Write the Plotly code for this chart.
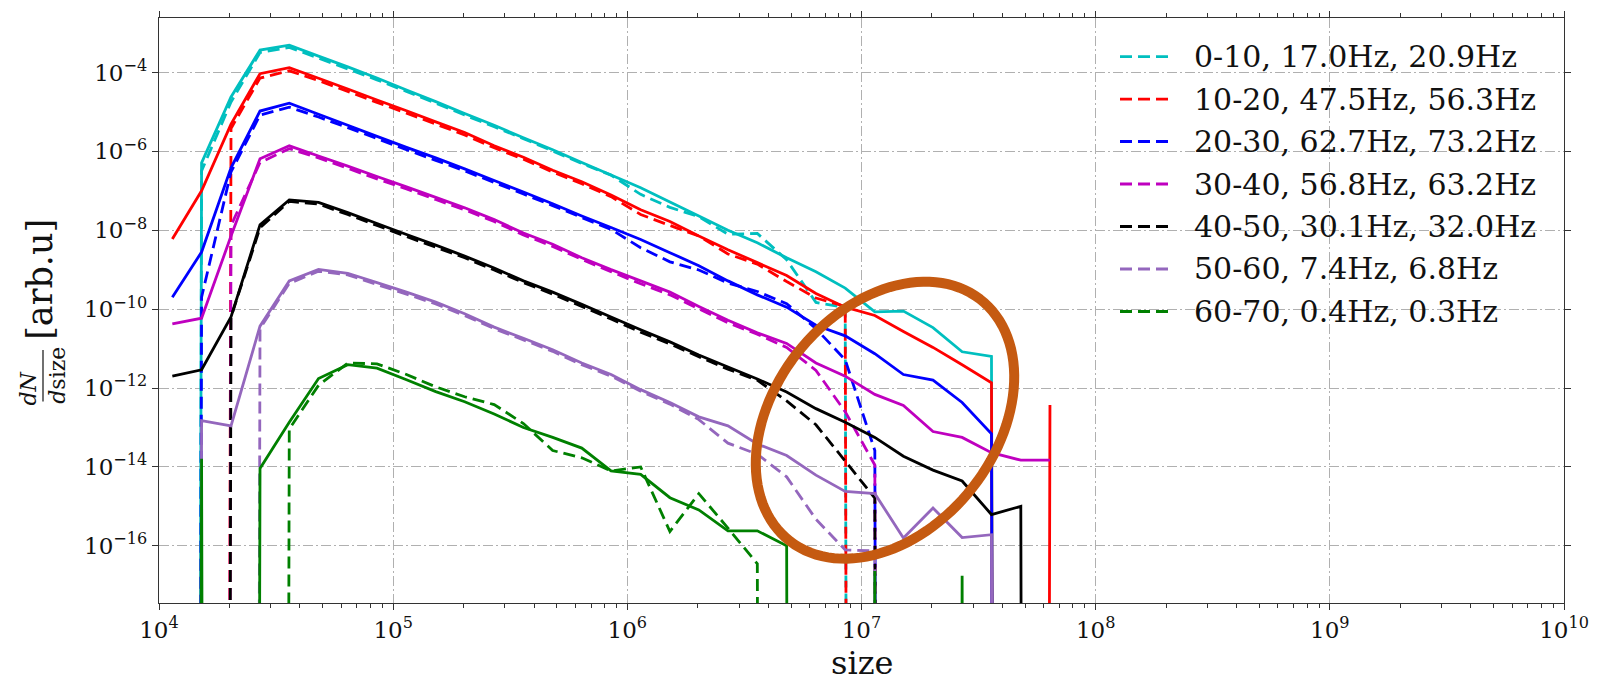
import math
import plotly.graph_objects as go

# ---------------------------------------------------------------- data
# bin centres of the size histogram
size_bins = [1.14e4, 1.52e4, 2.03e4, 2.70e4, 3.60e4, 4.80e4, 6.40e4, 8.53e4,
             1.14e5, 1.52e5, 2.02e5, 2.70e5, 3.60e5, 4.80e5, 6.39e5, 8.52e5,
             1.14e6, 1.52e6, 2.02e6, 2.69e6, 3.59e6, 4.79e6, 6.39e6, 8.52e6,
             1.14e7, 1.51e7, 2.02e7, 2.69e7, 3.59e7, 4.79e7, 6.38e7]

labels = ["0-10, 17.0Hz, 20.9Hz", "10-20, 47.5Hz, 56.3Hz", "20-30, 62.7Hz, 73.2Hz",
          "30-40, 56.8Hz, 63.2Hz", "40-50, 30.1Hz, 32.0Hz", "50-60, 7.4Hz, 6.8Hz",
          "60-70, 0.4Hz, 0.3Hz"]
colors = ["#00BFBF", "#FF0000", "#0000FF", "#BF00BF", "#000000", "#9467BD", "#008000"]

# tick positions and their labels
x_tick_exponents = [4, 5, 6, 7, 8, 9, 10]
y_tick_exponents = [-16, -14, -12, -10, -8, -6, -4]

# dN/dsize, first rate (solid) and second rate (dashed); 0 = empty bin
solid_0_10 = [0, 5.1e-7, 2.4e-5, 3.7e-4, 4.9e-4, 2.6e-4, 1.38e-4, 7.2e-5, 3.6e-5, 1.82e-5,
              9.1e-6, 4.6e-6, 2.2e-6, 1.10e-6, 5.2e-7, 2.5e-7, 1.20e-7, 5.2e-8, 2.3e-8, 1.0e-8,
              4.8e-9, 2.0e-9, 8.9e-10, 3.4e-10, 8.5e-11, 8.9e-11, 3.4e-11, 8.3e-12, 6.3e-12, 0, 0]
dashed_0_10 = [0, 3.2e-7, 1.78e-5, 3.2e-4, 4.3e-4, 2.3e-4, 1.23e-4, 6.5e-5, 3.3e-5, 1.66e-5,
               8.3e-6, 4.2e-6, 2.1e-6, 1.02e-6, 4.9e-7, 2.5e-7, 8.1e-8, 3.8e-8, 2.2e-8, 7.9e-9,
               8.3e-9, 1.78e-9, 1.48e-10, 1.10e-10, 0, 0, 0, 0, 0, 0, 0]

solid_10_20 = [6.0e-9, 1.0e-7, 4.9e-6, 9.3e-5, 1.32e-4, 7.1e-5, 3.8e-5, 2.0e-5, 1.07e-5, 5.6e-6,
               3.0e-6, 1.38e-6, 7.1e-7, 3.3e-7, 1.70e-7, 7.8e-8, 3.3e-8, 1.66e-8, 7.1e-9, 3.2e-9,
               1.51e-9, 7.1e-10, 2.5e-10, 1.12e-10, 6.9e-11, 2.7e-11, 1.07e-11, 3.9e-12, 1.35e-12,
               0, 3.7e-13]
dashed_10_20 = [0, 0, 3.8e-6, 7.2e-5, 1.10e-4, 6.2e-5, 3.3e-5, 1.74e-5, 9.3e-6, 4.9e-6,
                2.6e-6, 1.23e-6, 6.3e-7, 3.0e-7, 1.51e-7, 7.1e-8, 2.5e-8, 1.32e-8, 7.1e-9, 2.5e-9,
                1.38e-9, 5.0e-10, 1.91e-10, 1.17e-10, 0, 0, 0, 0, 0, 0, 0]

solid_20_30 = [2.0e-10, 2.8e-9, 3.8e-7, 1.05e-5, 1.66e-5, 8.7e-6, 4.6e-6, 2.4e-6, 1.26e-6, 6.8e-7,
               3.6e-7, 1.82e-7, 9.3e-8, 4.7e-8, 2.3e-8, 1.17e-8, 5.8e-9, 2.7e-9, 1.26e-9, 5.2e-10,
               2.3e-10, 1.12e-10, 3.9e-11, 2.1e-11, 7.4e-12, 2.2e-12, 1.58e-12, 4.3e-13, 6.9e-14,
               0, 0]
dashed_20_30 = [0, 2.0e-10, 3.0e-7, 8.3e-6, 1.32e-5, 7.4e-6, 4.0e-6, 2.1e-6, 1.10e-6, 5.9e-7,
                3.2e-7, 1.62e-7, 8.3e-8, 4.2e-8, 2.1e-8, 1.05e-8, 3.6e-9, 1.58e-9, 9.8e-10, 4.6e-10,
                2.8e-10, 1.38e-10, 3.2e-11, 5.2e-12, 2.6e-14, 0, 0, 0, 0, 0, 0]

solid_30_40 = [4.2e-11, 5.9e-11, 7.1e-9, 6.5e-7, 1.38e-6, 7.6e-7, 4.2e-7, 2.3e-7, 1.26e-7, 6.8e-8,
               3.7e-8, 1.86e-8, 8.5e-9, 4.4e-9, 2.0e-9, 1.0e-9, 5.2e-10, 2.7e-10, 1.17e-10, 5.2e-11,
               2.5e-11, 1.35e-11, 4.3e-12, 2.0e-12, 6.9e-13, 3.6e-13, 7.9e-14, 5.6e-14, 2.3e-14,
               1.48e-14, 1.48e-14]
dashed_30_40 = [0, 0, 1.32e-8, 5.2e-7, 1.17e-6, 6.8e-7, 3.7e-7, 2.0e-7, 1.12e-7, 6.0e-8,
                3.3e-8, 1.66e-8, 7.6e-9, 3.9e-9, 1.82e-9, 8.9e-10, 4.4e-10, 2.3e-10, 1.02e-10,
                4.5e-11, 2.3e-11, 1.07e-11, 2.8e-12, 2.5e-13, 1.12e-14, 0, 0, 0, 0, 0, 0]

solid_40_50 = [2.0e-12, 2.9e-12, 6.3e-11, 1.38e-8, 5.9e-8, 5.1e-8, 2.8e-8, 1.48e-8, 7.8e-9, 4.2e-9,
               2.2e-9, 1.10e-9, 5.2e-10, 2.7e-10, 1.32e-10, 6.3e-11, 3.0e-11, 1.48e-11, 6.9e-12,
               3.4e-12, 1.70e-12, 7.9e-13, 3.0e-13, 1.35e-13, 5.6e-14, 1.86e-14, 8.3e-15, 4.4e-15,
               6.2e-16, 1.0e-15, 0]
dashed_40_50 = [0, 0, 6.3e-11, 1.15e-8, 5.4e-8, 4.6e-8, 2.5e-8, 1.32e-8, 6.9e-9, 3.7e-9,
                2.0e-9, 9.8e-10, 4.7e-10, 2.4e-10, 1.17e-10, 5.6e-11, 2.6e-11, 1.32e-11, 6.2e-12,
                3.0e-12, 1.58e-12, 4.7e-13, 1.17e-13, 1.41e-14, 1.62e-15, 0, 0, 0, 0, 0, 0]

solid_50_60 = [0, 1.48e-13, 1.10e-13, 3.7e-11, 5.2e-10, 1.02e-9, 8.1e-10, 4.7e-10, 2.7e-10, 1.51e-10,
               7.6e-11, 3.5e-11, 1.82e-11, 9.3e-12, 4.3e-12, 2.2e-12, 9.1e-13, 4.3e-13, 1.86e-13,
               1.10e-13, 3.8e-14, 1.95e-14, 6.2e-15, 2.4e-15, 2.1e-15, 1.58e-16, 9.1e-16, 1.62e-16,
               1.91e-16, 0, 0]
dashed_50_60 = [0, 0, 0, 3.2e-11, 4.5e-10, 9.1e-10, 7.4e-10, 4.2e-10, 2.4e-10, 1.35e-10,
                6.9e-11, 3.2e-11, 1.66e-11, 8.5e-12, 3.9e-12, 2.0e-12, 8.3e-13, 3.9e-13, 1.58e-13,
                4.0e-14, 2.1e-14, 5.6e-15, 4.7e-16, 7.9e-17, 7.4e-17, 0, 0, 0, 0, 0, 0]

solid_60_70 = [0, 1.62e-14, 0, 9.1e-15, 1.35e-13, 1.74e-12, 3.9e-12, 3.2e-12, 1.62e-12, 8.1e-13,
               4.5e-13, 2.2e-13, 1.0e-13, 5.6e-14, 3.0e-14, 7.9e-15, 6.5e-15, 1.66e-15, 8.1e-16,
               2.4e-16, 2.4e-16, 1.0e-16, 0, 0, 2.3e-17, 0, 0, 1.74e-17, 0, 0, 0]
dashed_60_70 = [0, 0, 0, 0, 9.1e-14, 1.17e-12, 4.3e-12, 4.1e-12, 2.2e-12, 1.07e-12,
                6.0e-13, 3.8e-13, 1.26e-13, 2.6e-14, 1.70e-14, 7.9e-15, 1.0e-14, 2.3e-16, 2.1e-15,
                2.8e-16, 3.5e-17, 0, 0, 0, 0, 0, 0, 0, 0, 0, 0]

solid_series = [solid_0_10, solid_10_20, solid_20_30, solid_30_40, solid_40_50, solid_50_60, solid_60_70]
dashed_series = [dashed_0_10, dashed_10_20, dashed_20_30, dashed_30_40, dashed_40_50, dashed_50_60, dashed_60_70]

# ---------------------------------------------------------------- layout geometry (pixels)
W, H = 1611, 684
ML, MR, MT, MB = 159, 47, 11, 81
PW, PH = W - ML - MR, H - MT - MB

FONT = "DejaVu Serif"
INK = "#111111"
LINE_W = 2.8
DASH = "12px,6px"
# empty bins sit far below the axis so that the curve drops straight down
FLOOR = 1e-300


def px(x):
    return (x - ML) / PW


def py(y):
    return (H - MB - y) / PH


def positive(values):
    return [v if v > 0 else FLOOR for v in values]


def power_label(e):
    return "10<sup>%s</sup>" % (("\u2212%d" % -e) if e < 0 else str(e))


fig = go.Figure()
for color, sol, das in zip(colors, solid_series, dashed_series):
    fig.add_trace(go.Scatter(x=size_bins, y=positive(sol), mode="lines",
                             line=dict(color=color, width=LINE_W, simplify=False),
                             showlegend=False, hoverinfo="skip"))
    fig.add_trace(go.Scatter(x=size_bins, y=positive(das), mode="lines",
                             line=dict(color=color, width=LINE_W, dash=DASH, simplify=False),
                             showlegend=False, hoverinfo="skip"))

axis_common = dict(type="log", showline=True, linecolor="#333333", linewidth=1.3,
                   mirror="ticks", ticks="outside", tickcolor="#333333", zeroline=False,
                   tickmode="array", tickwidth=1.2,
                   showgrid=True, gridcolor="#b0b0b0", gridwidth=1, griddash="10px,3px,2px,3px",
                   tickfont=dict(family=FONT, size=23, color=INK))

minor_x = [m * 10 ** e for e in range(4, 10) for m in range(2, 10)]

fig.update_xaxes(range=[4, 10], ticklen=6,
                 tickvals=[10.0 ** e for e in x_tick_exponents],
                 ticktext=[power_label(e) for e in x_tick_exponents],
                 minor=dict(tickmode="array", tickvals=minor_x, ticklen=3.5, tickwidth=1,
                            tickcolor="#333333", ticks="outside", showgrid=False),
                 **axis_common)
fig.update_yaxes(range=[-17.45, -2.62], ticklen=6,
                 tickvals=[10.0 ** e for e in y_tick_exponents],
                 ticktext=[power_label(e) for e in y_tick_exponents],
                 **axis_common)

annotations = []
shapes = []

# axis titles
annotations.append(dict(text="size", x=0.5, y=py(684), xref="paper", yref="paper",
                        xanchor="center", yanchor="bottom", showarrow=False, borderpad=0,
                        font=dict(family=FONT, size=32, color=INK)))
annotations.append(dict(text="[arb.u]", x=px(40), y=py(276), xref="paper", yref="paper",
                        xanchor="center", yanchor="middle", showarrow=False, textangle=-90,
                        font=dict(family=FONT, size=35, color=INK)))
annotations.append(dict(text="<i>dN</i>", x=px(29), y=py(386), xref="paper", yref="paper",
                        xanchor="center", yanchor="middle", showarrow=False, textangle=-90,
                        font=dict(family=FONT, size=22, color=INK)))
annotations.append(dict(text="<i>d</i>size", x=px(58), y=py(373), xref="paper", yref="paper",
                        xanchor="center", yanchor="middle", showarrow=False, textangle=-90,
                        font=dict(family=FONT, size=22, color=INK)))
shapes.append(dict(type="line", xref="paper", yref="paper", x0=px(43), x1=px(43),
                   y0=py(347), y1=py(399), line=dict(color=INK, width=1.2)))

# legend
for i, (lab, color) in enumerate(zip(labels, colors)):
    yc = 50.0 + 43.0 * i
    shapes.append(dict(type="line", xref="paper", yref="paper", x0=px(1120), x1=px(1173),
                       y0=py(yc), y1=py(yc), line=dict(color=color, width=LINE_W, dash=DASH)))
    annotations.append(dict(text=lab, x=px(1192), y=py(yc), xref="paper", yref="paper",
                            xanchor="left", yanchor="middle", showarrow=False,
                            font=dict(family=FONT, size=30, color=INK)))

# highlight ellipse around the high-size tail
cx, cy, a, b, phi = 885.0, 418.0, 155.0, 111.0, math.radians(52.3)
pts = []
for i in range(121):
    t = 2 * math.pi * i / 120
    ex = cx + a * math.cos(t) * math.cos(phi) + b * math.sin(t) * math.sin(phi)
    ey = cy - a * math.cos(t) * math.sin(phi) + b * math.sin(t) * math.cos(phi)
    pts.append(f"{px(ex):.5f},{py(ey):.5f}")
shapes.append(dict(type="path", xref="paper", yref="paper",
                   path="M" + " L".join(pts) + " Z",
                   line=dict(color="#C55A11", width=10)))

fig.update_layout(width=W, height=H, margin=dict(l=ML, r=MR, t=MT, b=MB),
                  paper_bgcolor="white", plot_bgcolor="white", showlegend=False,
                  annotations=annotations, shapes=shapes,
                  font=dict(family=FONT, color=INK))

fig.write_html("out.html")
